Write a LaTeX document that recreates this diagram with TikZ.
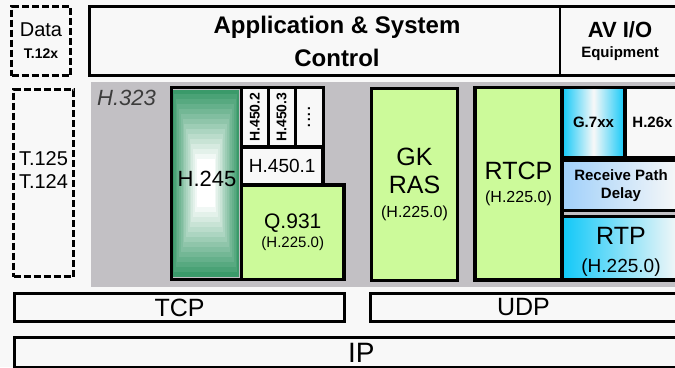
\documentclass[tikz,border=0pt]{standalone}
\usepackage{fontspec}
\setmainfont{Liberation Sans}
\newcommand{\fsz}[1]{\fontsize{#1}{#1}\selectfont}
\definecolor{bgwhite}{RGB}{248,248,248}
\definecolor{areagray}{RGB}{194,192,196}
\definecolor{litegreen}{RGB}{204,250,154}
\definecolor{darkgreen}{RGB}{58,154,106}
\definecolor{rtpcyan}{RGB}{16,200,248}
\definecolor{liteblue}{RGB}{160,208,250}
\definecolor{labelgray}{RGB}{60,60,60}
\begin{document}
\begin{tikzpicture}[x=1pt, y=-1pt,
    layer/.style={draw, line width=3.5pt, inner sep=0pt, align=center},
    dashlayer/.style={draw, line width=3pt, dash pattern=on 7pt off 3pt, inner sep=0pt, align=center},
    toplayer/.style={draw, line width=2.5pt, inner sep=0pt, align=center},
    netlayer/.style={draw, line width=3pt, inner sep=0pt, font=\fsz{25}},
    sublayer/.style={draw, line width=3pt, inner sep=0pt, rotate=90, fill=bgwhite, font=\bfseries\fsz{14}},
    textonly/.style={inner sep=0pt, align=center}]
    \useasboundingbox (0,0) rectangle (675,367);
    \clip (0,0) rectangle (675,367);
    \fill[bgwhite] (0,0) rectangle (675,367);
    %
    \node[dashlayer, minimum width=59pt, minimum height=69pt, font=\fsz{20}] (Data) at (41,41) {Data\\[2pt]{\fsz{14}\bfseries T.12x}};
    \node[toplayer, minimum width=470.7pt, minimum height=69.4pt] (App) at (324.65,41) {};
    \node[textonly, font=\bfseries\fsz{24}] (AppLabel) at (337,41) {Application \& System\\[9pt]Control};
    \node[toplayer, minimum width=120pt, minimum height=69.4pt, font=\bfseries\fsz{22}] (AVIO) at (620,41) {AV I/O\\[-2pt]{\fsz{15}Equipment}};
    %
    \node[dashlayer, minimum width=60pt, minimum height=187pt] (T125) at (43.5,183) {};
    \node[textonly, font=\fsz{20}] (T125Label) at (43.5,170.4) {T.125\\[3pt]T.124};
    %
    \node[fill=areagray, inner sep=0pt, minimum width=589pt, minimum height=205pt] (H323) at (385.5,184.5) {};
    \node[anchor=base west, inner sep=0pt, font=\itshape\fsz{22}, text=labelgray] (H323Label) at (97,105) {H.323};
    %
    \foreach \i in {0,...,14} {
        \pgfmathsetmacro{\hw}{33.5-24.5*\i/14}
        \pgfmathsetmacro{\hh}{93.5-69.5*\i/14}
        \pgfmathtruncatemacro{\mix}{100-100*\i/14}
        \fill[darkgreen!\mix!white] (205.5-\hw,183-\hh) rectangle (205.5+\hw,183+\hh);
    }
    \node[layer, minimum width=70pt, minimum height=192pt] (H245) at (206.5,183.5) {};
    \node[textonly, font=\fsz{22}] (H245Label) at (207,179) {H.245};
    %
    \node[sublayer, minimum width=59.5pt, minimum height=26.5pt] (H4502) at (254.75,117.25) {H.450.2};
    \node[sublayer, minimum width=59.5pt, minimum height=27pt] (H4503) at (281.5,117.25) {H.450.3};
    \node[sublayer, minimum width=59.5pt, minimum height=28pt, font=\fsz{20}] (Dots) at (309,117.25) {....};
    \node[layer, fill=bgwhite, minimum width=81.5pt, minimum height=38pt, font=\fsz{19}] (H4501) at (282.25,166) {H.450.1};
    \node[layer, fill=litegreen, minimum width=102.5pt, minimum height=94.5pt, font=\fsz{21}] (Q931) at (292.75,232.25) {Q.931\\[-2pt]{\fsz{15}(H.225.0)}};
    %
    \node[layer, fill=litegreen, minimum width=86pt, minimum height=192pt, font=\fsz{25}] (GKRAS) at (414.5,184.5) {GK\\[3pt]RAS\\[-1pt]{\fsz{16}(H.225.0)}};
    \node[layer, fill=litegreen, minimum width=87pt, minimum height=192.5pt, font=\fsz{25}] (RTCP) at (518.5,183.75) {RTCP\\[-2pt]{\fsz{16}(H.225.0)}};
    %
    \node[layer, left color=rtpcyan, right color=rtpcyan, middle color=bgwhite, minimum width=63pt, minimum height=70pt, font=\bfseries\fsz{15}] (G7xx) at (593.5,122.5) {G.7xx};
    \node[layer, fill=bgwhite, minimum width=55pt, minimum height=70pt, font=\bfseries\fsz{15}] (H26x) at (652.5,122.5) {H.26x};
    \node[layer, left color=liteblue, right color=bgwhite, minimum width=118pt, minimum height=50pt, font=\bfseries\fsz{15}] (RPD) at (621,185.5) {Receive Path\\[3pt]Delay};
    \node[layer, left color=rtpcyan, right color=bgwhite, minimum width=118pt, minimum height=63.5pt] (RTP) at (621,248.25) {};
    \node[textonly, font=\fsz{25}] (RTPLabel) at (621,252) {RTP\\[3pt]{\fsz{19}(H.225.0)}};
    %
    \node[netlayer, minimum width=330pt, minimum height=28pt] (TCP) at (179.5,307.5) {TCP};
    \node[netlayer, minimum width=307pt, minimum height=28pt] (UDP) at (523.5,307.5) {UDP};
    \node[netlayer, minimum width=693.5pt, minimum height=30pt, font=\fsz{28}] (IP) at (361.25,352.5) {IP};
\end{tikzpicture}
\end{document}
